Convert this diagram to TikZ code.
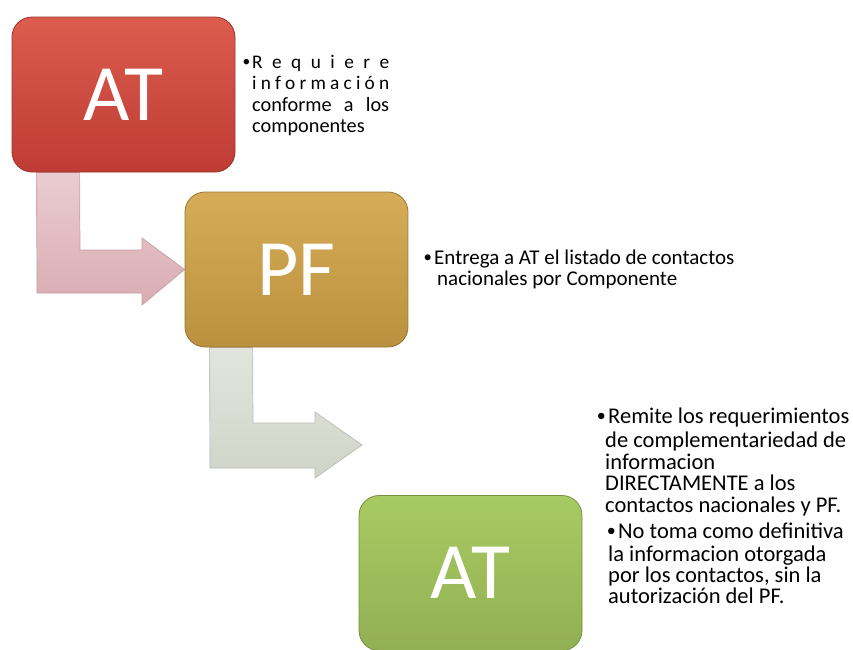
\documentclass[tikz,border=0pt]{standalone}
\usepackage{fontspec}
\setmainfont{Carlito}
\usetikzlibrary{calc,backgrounds}
\definecolor{redT}{RGB}{220,92,78}
\definecolor{redB}{RGB}{190,60,52}
\definecolor{redD}{RGB}{160,50,45}
\definecolor{goldT}{RGB}{214,172,88}
\definecolor{goldB}{RGB}{186,145,62}
\definecolor{goldD}{RGB}{150,118,52}
\definecolor{grnT}{RGB}{168,202,98}
\definecolor{grnB}{RGB}{146,176,84}
\definecolor{grnD}{RGB}{118,145,68}
\definecolor{pinkT}{RGB}{234,204,208}
\definecolor{pinkB}{RGB}{218,172,180}
\definecolor{pinkD}{RGB}{196,160,166}
\definecolor{grayT}{RGB}{226,229,220}
\definecolor{grayB}{RGB}{208,212,200}
\definecolor{grayD}{RGB}{184,188,178}
\newcommand{\mybul}{\llap{\raisebox{0.08em}{\scalebox{0.8}{•}}\hspace{0.1em}}}
\begin{document}
\begin{tikzpicture}[x=1pt,y=-1pt,
  box/.style={rounded corners=20pt, minimum width=223pt, minimum height=155pt,
    inner sep=0pt, text=white, font=\fontsize{80}{82}\selectfont, line width=0.8pt},
  bent/.style={line width=0.7pt, line join=miter},
  ln/.style={anchor=base west, inner sep=0pt, text=black},
  fA/.style={font=\fontsize{19.3}{20}\selectfont},
  fB/.style={font=\fontsize{20.3}{22}\selectfont},
  fC/.style={font=\fontsize{21}{22}\selectfont},
  fD/.style={font=\fontsize{22.5}{24}\selectfont}]
\useasboundingbox (0,0) rectangle (853,649);

% boxes
\node[box, top color=redT, bottom color=redB, draw=redD] (b1) at (123.5,94.5) {\raisebox{-2pt}{AT}};
\node[box, top color=goldT, bottom color=goldB, draw=goldD] (b2) at (296.5,269.5) {\raisebox{-2pt}{PF}};
\node[box, top color=grnT, bottom color=grnB, draw=grnD] (b3) at (470.5,573) {\raisebox{-2pt}{AT}};

% bent arrows (from box to box), behind the boxes
\begin{scope}[on background layer]
\draw[bent, top color=pinkT, bottom color=pinkB, draw=pinkD]
  ($(b1.south west)+(25,0)$) -- ($(b1.south west)+(68,0)$) -- (80,250) -- (142,250) -- (142,238)
  -- (b2.west) -- (142,305) -- (142,293) -- (37,293) -- cycle;
\coordinate (tip2) at (362,445);
\draw[bent, top color=grayT, bottom color=grayB, draw=grayD]
  ($(b2.south west)+(25,0)$) -- ($(b2.south west)+(68,0)$) -- (253,423) -- (315,423) -- (315,412)
  -- (tip2) -- (315,478) -- (315,468) -- (210,468) -- cycle;
\end{scope}

% text beside AT (top)
\node[ln, fA] (t1a) at (252,68.3) {\mybul\makebox[137pt][s]{R e q u i e r e}};
\node[ln, fA] (t1b) at (252,89.5) {\makebox[137pt][s]{i n f o r m a c i ó n}};
\node[ln, fB] (t1c) at (252,111.5) {\makebox[137pt][s]{conforme a los}};
\node[ln, fB] (t1d) at (252,132.7) {componentes};

% text beside PF
\node[ln, fC] (t2a) at (434,264) {\mybul Entrega a AT el listado de contactos};
\node[ln, fC] (t2b) at (437,285) {nacionales por Componente};

% text beside AT (bottom)
\node[ln, fD] (t3a) at (608,423) {\mybul Remite los requerimientos};
\node[ln, fD] (t3b) at (605,447) {de complementariedad de};
\node[ln, fD] (t3c) at (605,469) {informacion};
\node[ln, fD] (t3d) at (605,490) {DIRECTAMENTE a los};
\node[ln, fD] (t3e) at (605,512) {contactos nacionales y PF.};
\node[ln, fD] (t4a) at (618,538) {\mybul No toma como definitiva};
\node[ln, fD] (t4b) at (608,561) {la informacion otorgada};
\node[ln, fD] (t4c) at (608,582) {por los contactos, sin la};
\node[ln, fD] (t4d) at (608,603) {autorización del PF.};
\end{tikzpicture}
\end{document}
